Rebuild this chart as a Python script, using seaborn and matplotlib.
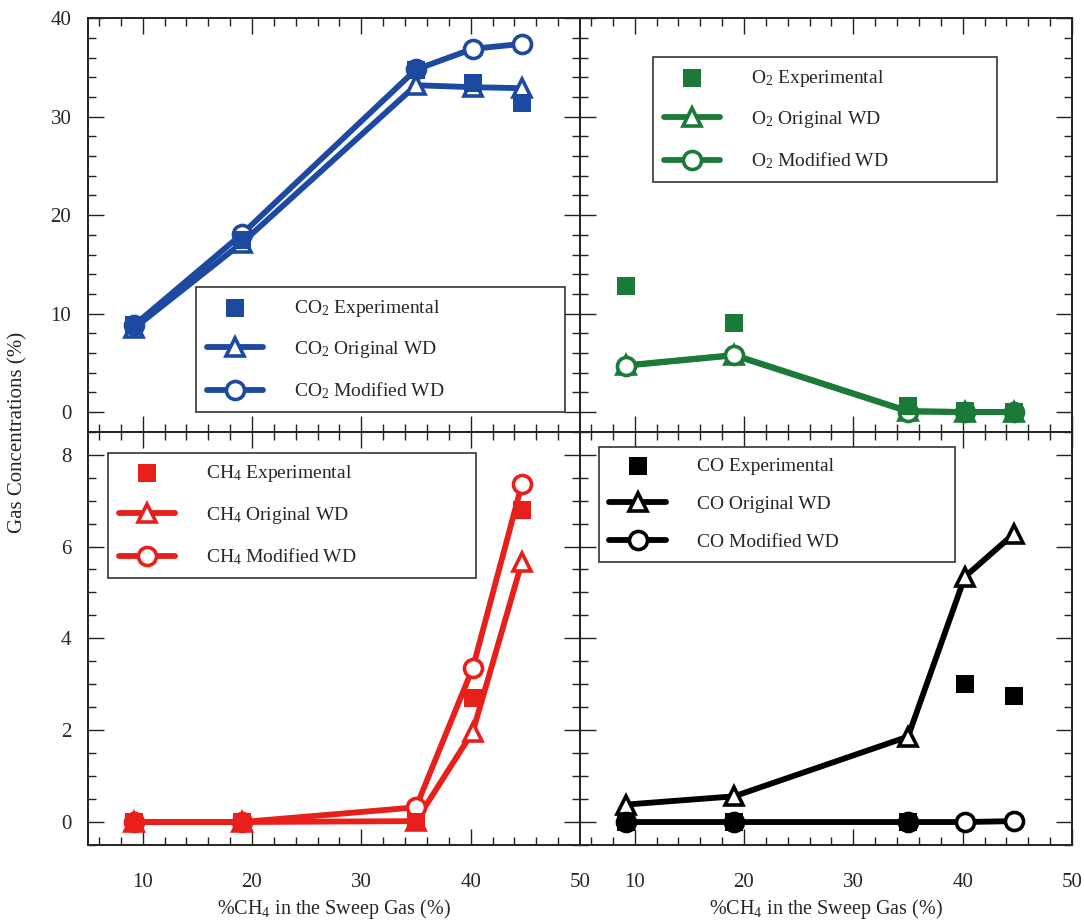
import matplotlib
matplotlib.use("Agg")
import matplotlib.pyplot as plt
import seaborn as sns
import numpy as np
from matplotlib.ticker import MultipleLocator

# ---------------- data ----------------
ch4_sweep = [9.2, 19.1, 35.0, 40.2, 44.7]

co2_exp = [8.8, 17.5, 34.75, 33.4, 31.4]
co2_orig = [8.5, 17.2, 33.2, 33.0, 32.9]
co2_mod = [8.8, 18.1, 34.8, 36.9, 37.4]

o2_exp = [12.8, 9.0, 0.6, 0.1, 0.0]
o2_orig = [4.75, 5.8, 0.1, 0.0, 0.0]
o2_mod = [4.7, 5.75, 0.05, 0.0, 0.0]

ch4_exp = [0.0, 0.0, 0.0, 2.70, 6.79]
ch4_orig = [0.0, 0.0, 0.02, 1.97, 5.67]
ch4_mod = [0.0, 0.0, 0.32, 3.36, 7.37]

co_exp = [0.0, 0.0, 0.0, 3.0, 2.75]
co_orig = [0.38, 0.56, 1.86, 5.34, 6.28]
co_mod = [0.0, 0.0, 0.0, 0.0, 0.02]

gases = ["CO$_2$", "O$_2$", "CH$_4$", "CO"]
suffixes = ["Experimental", "Original WD", "Modified WD"]
x_ticks = [10, 20, 30, 40, 50]
y_ticks_top = [0, 10, 20, 30, 40]
y_ticks_bottom = [0, 2, 4, 6, 8]
x_label = "%CH$_4$ in the Sweep Gas (%)"
y_label = "Gas Concentrations (%)"

# ---------------- style ----------------
sns.set_style("ticks")
plt.rcParams["font.family"] = ["Liberation Serif", "DejaVu Serif"]
plt.rcParams["mathtext.fontset"] = "custom"
plt.rcParams["mathtext.rm"] = "Liberation Serif"
plt.rcParams["mathtext.it"] = "Liberation Serif:italic"
plt.rcParams["mathtext.bf"] = "Liberation Serif:bold"

colors = ["#1d4aa0", "#1b7a37", "#e8201c", "#000000"]

W, H = 1084, 923
fig = plt.figure(figsize=(W / 100, H / 100), dpi=100)

def px_axes(x0, y0, x1, y1):
    return fig.add_axes([x0 / W, 1 - y1 / H, (x1 - x0) / W, (y1 - y0) / H])

ax_co2 = px_axes(88, 18.3, 580, 431.7)
ax_o2 = px_axes(580, 18.3, 1072, 431.7)
ax_ch4 = px_axes(88, 431.7, 580, 845)
ax_co = px_axes(580, 431.7, 1072, 845)

panels = [
    (ax_co2, co2_exp, co2_orig, co2_mod, colors[0], (0.22, 0.05, 0.75, 0.30)),
    (ax_o2, o2_exp, o2_orig, o2_mod, colors[1], (0.148, 0.60, 0.70, 0.306)),
    (ax_ch4, ch4_exp, ch4_orig, ch4_mod, colors[2], (0.041, 0.65, 0.748, 0.299)),
    (ax_co, co_exp, co_orig, co_mod, colors[3], (0.038, 0.66, 0.725, 0.304)),
]

for i, (ax, ye, yo, ym, c, lbox) in enumerate(panels):
    g = gases[i]
    sns.lineplot(x=ch4_sweep, y=yo, ax=ax, color=c, lw=4.2, marker="^", ms=13,
                 mfc="white", mec=c, mew=2.6, label=f"{g} {suffixes[1]}", zorder=3)
    sns.lineplot(x=ch4_sweep, y=ym, ax=ax, color=c, lw=4.2, marker="o", ms=13,
                 mfc="white", mec=c, mew=2.6, label=f"{g} {suffixes[2]}", zorder=3)
    sns.scatterplot(x=ch4_sweep, y=ye, ax=ax, color=c, marker="s", s=150,
                    linewidth=0, label=f"{g} {suffixes[0]}", zorder=4)
    ax.set_xlim(5, 50)
    ax.set_xticks(x_ticks)
    ax.xaxis.set_minor_locator(MultipleLocator(2))
    if i < 2:
        ax.set_ylim(-2, 40)
        ax.set_yticks(y_ticks_top)
        ax.yaxis.set_minor_locator(MultipleLocator(2))
    else:
        ax.set_ylim(-0.5, 8.5)
        ax.set_yticks(y_ticks_bottom)
        ax.yaxis.set_minor_locator(MultipleLocator(0.5))
    ax.tick_params(which="both", direction="in", top=True, right=True,
                   bottom=True, left=True, color="#222222", width=1.0)
    ax.tick_params(which="major", length=11.5)
    ax.tick_params(which="minor", length=5.5)
    ax.tick_params(axis="x", labelsize=15, pad=20)
    ax.tick_params(axis="y", labelsize=15, pad=12)
    if i < 2:
        ax.tick_params(axis="x", labelbottom=False)
    if i % 2 == 1:
        ax.tick_params(axis="y", labelleft=False)
    for sp in ax.spines.values():
        sp.set_linewidth(1.4)
        sp.set_color("#222222")
    ax.set_xlabel("")
    ax.set_ylabel("")
    if i >= 2:
        ax.set_xlabel(x_label, fontsize=14.5, labelpad=4)

    handles, labels = ax.get_legend_handles_labels()
    order = [labels.index(f"{g} {s}") for s in suffixes]
    leg = ax.legend([handles[k] for k in order], [labels[k] for k in order],
                    loc="upper left", bbox_to_anchor=lbox, mode="expand",
                    borderaxespad=0, fontsize=14, frameon=True, fancybox=False,
                    framealpha=1, edgecolor="#333333", handlelength=2.9,
                    handletextpad=1.6, labelspacing=1.05, borderpad=0.55,
                    scatterpoints=1)
    leg.get_frame().set_linewidth(1.2)

fig.text(18 / W, 1 - 432 / H, y_label, rotation=90, ha="center", va="center",
         fontsize=15)

fig.savefig("out.png", dpi=100)
